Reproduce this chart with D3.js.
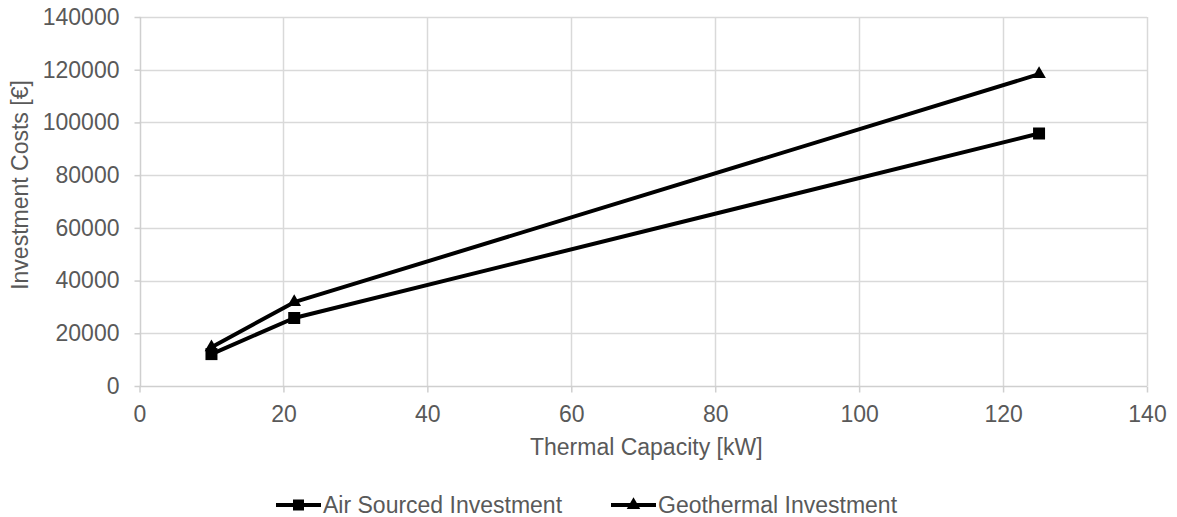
<!DOCTYPE html>
<html>
<head>
<meta charset="utf-8">
<script src="https://cdn.jsdelivr.net/npm/d3@7"></script>
<style>
  body { margin: 0; background: #fff; }
  text { font-family: "Liberation Sans", Arial, sans-serif; fill: #595959; }
</style>
</head>
<body>
<div id="chart"></div>
<script>
// data
const capacity = [10, 21.5, 125];
const airInvest = [12100, 25800, 95800];
const geoInvest = [14700, 31800, 118300];
const xTicks = [0, 20, 40, 60, 80, 100, 120, 140];
const yTicks = [0, 20000, 40000, 60000, 80000, 100000, 120000, 140000];
const seriesNames = ["Air Sourced Investment", "Geothermal Investment"];

const width = 1177, height = 517,
      margin = ({ top: 17, right: 30, bottom: 131, left: 139.5 }),
      fontSize = 23;

let svg = d3.select("#chart")
    .append("svg")
    .attr("width", width)
    .attr("height", height);

let x = d3.scaleLinear()
    .domain([0, 140])
    .range([margin.left, width - margin.right]);

let y = d3.scaleLinear()
    .domain([0, 140000])
    .range([height - margin.bottom, margin.top]);

//gridlines
svg.append("g")
    .selectAll("line")
    .data(yTicks.slice(1))
    .join("line")
    .attr("x1", x(0)).attr("x2", x(140))
    .attr("y1", d => Math.round(y(d)) + 0.5).attr("y2", d => Math.round(y(d)) + 0.5)
    .attr("stroke", "#d9d9d9").attr("stroke-width", 1.5);

svg.append("g")
    .selectAll("line")
    .data(xTicks.slice(1))
    .join("line")
    .attr("x1", d => Math.round(x(d)) + 0.5).attr("x2", d => Math.round(x(d)) + 0.5)
    .attr("y1", y(0)).attr("y2", y(140000))
    .attr("stroke", "#d9d9d9").attr("stroke-width", 1.5);

//axes
let xAxis = svg.append("g")
    .attr("transform", `translate(0,${Math.round(y(0)) + 0.5})`)
    .call(d3.axisBottom(x).tickValues(xTicks).tickSize(6).tickPadding(13));

let yAxis = svg.append("g")
    .attr("transform", `translate(${Math.round(x(0)) + 0.5},0)`)
    .call(d3.axisLeft(y).tickValues(yTicks).tickFormat(d3.format("d")).tickSize(6).tickPadding(15));

for (let ax of [xAxis, yAxis]) {
    ax.select(".domain").attr("stroke", "#cfcfcf").attr("stroke-width", 1.5);
    ax.selectAll(".tick line").attr("stroke", "#cfcfcf").attr("stroke-width", 1.5);
    ax.selectAll(".tick text").attr("font-size", fontSize).attr("fill", "#595959")
        .attr("font-family", "Liberation Sans, Arial, sans-serif");
}
xAxis.select(".domain").attr("d", `M${x(0)},0H${x(140)}`);
yAxis.select(".domain").attr("d", `M0,${y(0)}V${y(140000)}`);

//axis titles
svg.append("text")
    .attr("x", x(70) + 3)
    .attr("y", 455)
    .attr("text-anchor", "middle")
    .attr("font-size", fontSize)
    .text("Thermal Capacity [kW]");

svg.append("text")
    .attr("transform", "translate(28,185) rotate(-90)")
    .attr("text-anchor", "middle")
    .attr("font-size", fontSize)
    .text("Investment Costs [€]");

//lines
const seriesData = [
    capacity.map((c, i) => ({ x: c, y: airInvest[i] })),
    capacity.map((c, i) => ({ x: c, y: geoInvest[i] }))
];
const symbols = [d3.symbolSquare, d3.symbolTriangle];
const symSize = [144, 80];

let line = d3.line().x(d => x(d.x)).y(d => y(d.y));

seriesData.forEach((s, k) => {
    svg.append("path")
        .datum(s)
        .attr("fill", "none")
        .attr("stroke", "#000")
        .attr("stroke-width", 4)
        .attr("stroke-linejoin", "round")
        .attr("d", line);

    svg.append("g")
        .selectAll("path")
        .data(s)
        .join("path")
        .attr("transform", d => `translate(${x(d.x)},${y(d.y)})`)
        .attr("d", d3.symbol().type(symbols[k]).size(symSize[k]))
        .attr("fill", "#000");
});

//legend
const legendX = [276, 611];
seriesNames.forEach((name, k) => {
    let g = svg.append("g").attr("transform", `translate(${legendX[k]},505)`);
    g.append("line")
        .attr("x1", 0).attr("x2", 45)
        .attr("stroke", "#000").attr("stroke-width", 4);
    g.append("path")
        .attr("transform", "translate(22.5,0)")
        .attr("d", d3.symbol().type(symbols[k]).size(k === 0 ? 121 : 80))
        .attr("fill", "#000");
    g.append("text")
        .attr("x", 47)
        .attr("y", 8)
        .attr("font-size", fontSize)
        .text(name);
});
</script>
</body>
</html>
